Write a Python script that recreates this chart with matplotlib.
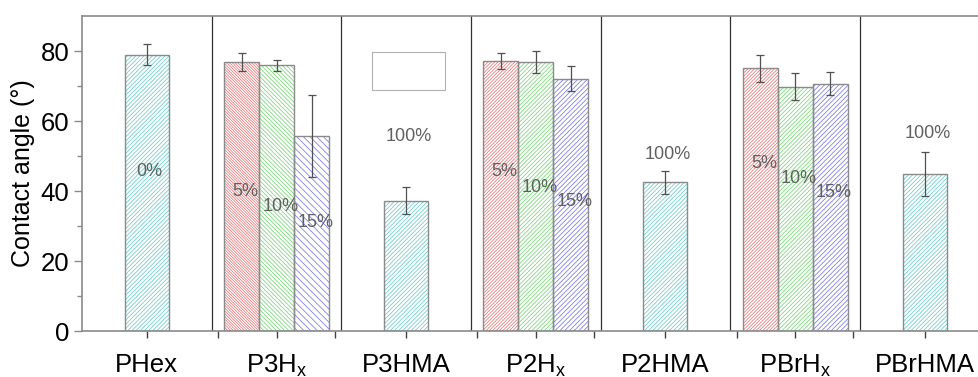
import matplotlib.pyplot as plt
import numpy as np
from matplotlib.patches import Rectangle

plt.rcParams['font.family'] = ['Liberation Sans', 'DejaVu Sans']
plt.rcParams['mathtext.default'] = 'regular'
plt.rcParams['hatch.linewidth'] = 0.55

grupos = ["PHex", "P3H$_x$", "P3HMA", "P2H$_x$", "P2HMA", "PBrH$_x$", "PBrHMA"]

# grupos con una sola barra: (posicion, valor, error, etiqueta, y etiqueta)
simples_pos = [0, 2, 4, 6]
simples_val = [79.0, 37.2, 42.5, 44.9]
simples_err = [2.9, 3.9, 3.3, 6.2]
simples_txt = ["0%", "100%", "100%", "100%"]
simples_txt_y = [45.5, 55.5, 50.5, 56.5]

# grupos con tres barras (5%, 10%, 15%)
triples_pos = [1, 3, 5]
val_5 = [76.8, 77.1, 75.1]
err_5 = [2.5, 2.2, 3.9]
val_10 = [75.9, 76.8, 69.8]
err_10 = [1.6, 3.1, 3.8]
val_15 = [55.7, 72.1, 70.6]
err_15 = [11.8, 3.5, 3.3]
txt_y_5 = [40.0, 45.5, 48.0]
txt_y_10 = [35.5, 41.0, 43.5]
txt_y_15 = [31.0, 37.0, 39.5]

fig = plt.figure(figsize=(9.79, 3.77), dpi=100)
ax = fig.add_axes([0.0838, 0.122, 0.927, 0.8355])

borde = "#8a8a8a"
txt_col = "#606060"

def barras(x, h, w, color, hatch, err):
    ax.bar(x, h, w, color="none", edgecolor=color, hatch=hatch, linewidth=0)
    ax.bar(x, h, w, color="none", edgecolor=borde, linewidth=1.0)
    ax.errorbar(x, h, yerr=err, fmt="none", ecolor="#505050", elinewidth=0.9,
                capsize=3, capthick=0.9)

barras(simples_pos, simples_val, 0.34, "#6ccaca", "/" * 8, simples_err)
for x, y, t in zip(simples_pos, simples_txt_y, simples_txt):
    ax.text(x + 0.02, y, t, ha="center", va="center", fontsize=13, color=txt_col)

tp = np.array(triples_pos)
w = 0.27
series = [
    (tp - w, val_5, err_5, "#e47878", "5%", txt_y_5),
    (tp, val_10, err_10, "#78d478", "10%", txt_y_10),
    (tp + w, val_15, err_15, "#7878e4", "15%", txt_y_15),
]
hatches_p3 = ["\\" * 12, "\\" * 8, "\\" * 5]
hatches_otros = ["/" * 10, "/" * 8, "/" * 7]
for k, (xs, vals, errs, col, t, ty) in enumerate(series):
    barras(xs[:1], vals[:1], w, col, hatches_p3[k], errs[:1])
    barras(xs[1:], vals[1:], w, col, hatches_otros[k], errs[1:])
    for x, y in zip(xs, ty):
        ax.text(x + 0.03, y, t, ha="center", va="center", fontsize=13, color=txt_col)

# separadores entre grupos
for s in np.arange(0.5, 6.5, 1):
    ax.axvline(s, color="#303030", lw=0.9)

# recuadro vacio (leyenda)
ax.add_patch(Rectangle((1.74, 69.0), 0.56, 10.8, fill=False, edgecolor="#b0b0b0", lw=0.8))

ax.set_xlim(-0.5, 6.5)
ax.set_ylim(0, 90)
ax.set_xticks(range(len(grupos)))
ax.set_xticklabels(grupos, fontsize=18.5)
ax.set_xticks(np.concatenate([tp - 0.45, tp + 0.45]), minor=True)
ax.set_yticks([0, 20, 40, 60, 80])
ax.set_yticks([10, 30, 50, 70], minor=True)
ax.tick_params(axis="y", labelsize=18.5, length=6, width=1, color=borde, pad=3)
ax.tick_params(axis="y", which="minor", length=3.5, width=1, color=borde)
ax.tick_params(axis="x", length=5, width=1, color="#404040", pad=11)
ax.tick_params(axis="x", which="minor", length=5, width=1, color="#404040")
for sp in ax.spines.values():
    sp.set_color(borde)
    sp.set_linewidth(1.2)
ax.set_ylabel("Contact angle (°)", fontsize=18)

plt.savefig("out.png")
